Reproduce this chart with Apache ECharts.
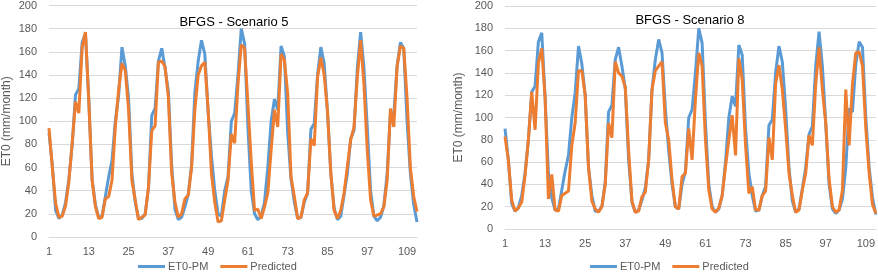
<!DOCTYPE html>
<html><head><meta charset="utf-8">
<script src="https://cdn.jsdelivr.net/npm/echarts@6/dist/echarts.min.js"></script>
<style>html,body{margin:0;padding:0;background:#fff}#c{width:878px;height:272px}</style>
</head><body><div id="c"></div>
<script>
const months = Array.from({length:112},(_,i)=>String(i+1));
const et0pm = [90,62,23,16,19,30,50,80,123,128,168,176,118,50,28,17,18,35,52,66,100,122,164,148,120,55,30,16,16,20,42,105,111,152,163,146,126,62,24,15,17,26,37,62,125,152,170,158,108,70,40,20,18,40,52,100,107,140,180,167,95,40,20,15,18,30,60,100,119,110,165,156,90,50,30,16,17,30,38,93,98,140,164,150,108,55,25,15,18,36,55,85,92,146,177,146,95,40,18,14,17,27,55,108,105,148,168,163,100,55,28,13];
const predS5 = [94,60,29,17,18,27,48,81,117,107,164,177,118,49,26,16,17,33,35,49,95,127,150,144,110,49,32,15,17,19,43,92,96,151,152,147,121,55,30,17,20,33,36,60,110,140,148,151,110,55,30,13,14,32,49,89,81,132,166,163,115,65,23,24,16,26,38,75,110,95,158,153,124,52,35,16,17,32,38,85,79,138,155,140,109,55,23,16,23,38,61,84,95,138,170,132,75,32,18,19,20,26,49,111,95,147,165,163,120,60,35,22];
const predS8 = [83,62,26,16,19,24,48,80,123,89,149,162,118,27,49,17,16,30,32,34,75,95,142,142,120,55,25,18,15,20,40,95,82,150,140,137,127,70,25,15,16,29,33,62,125,142,146,150,95,80,44,20,18,47,50,90,62,116,158,146,80,35,18,15,19,30,56,80,102,66,153,134,75,32,38,17,17,30,34,82,62,130,147,125,90,50,30,15,17,35,50,84,75,130,163,125,95,45,20,15,17,35,125,75,130,158,159,146,90,50,22,14];
const titles = ['BFGS - Scenario 5','BFGS - Scenario 8'];
const seriesNames = ['ET0-PM','Predicted'];
const yTitle = 'ET0 (mm/month)';

const txt = '#595959', font = 'Liberation Sans';
const chart = echarts.init(document.getElementById('c'));
function xa(gi){return {type:'category',gridIndex:gi,data:months,boundaryGap:false,
  axisLine:{lineStyle:{color:'#D9D9D9'}},axisTick:{show:false},
  axisLabel:{interval:11,color:txt,fontSize:11,fontFamily:font,margin:9}};}
function ya(gi,gap){return {type:'value',gridIndex:gi,min:0,max:200,interval:20,
  name:yTitle,nameLocation:'middle',nameGap:gap,nameTextStyle:{color:txt,fontSize:12,fontFamily:font},
  axisLine:{show:false},axisTick:{show:false},
  splitLine:{lineStyle:{color:'#D9D9D9',width:1}},
  axisLabel:{color:txt,fontSize:11,fontFamily:font,margin:12}};}
function ln(name,data,gi,color,z){return {name,type:'line',xAxisIndex:gi,yAxisIndex:gi,data,
  showSymbol:false,symbol:'none',z,lineStyle:{color,width:3},itemStyle:{color},animation:false};}
function lg(left){return {left,top:261,padding:0,icon:'rect',itemWidth:27,itemHeight:3,itemGap:12,data:seriesNames,selectedMode:false,
  textStyle:{color:txt,fontSize:11,fontFamily:font,padding:[0,0,0,-2]}};}
chart.setOption({
  animation:false,
  title:[
    {text:titles[0],left:229,top:11,textAlign:'center',textStyle:{color:'#000',fontSize:13,fontWeight:'normal',fontFamily:font}},
    {text:titles[1],left:685,top:9,textAlign:'center',textStyle:{color:'#000',fontSize:13,fontWeight:'normal',fontFamily:font}}
  ],
  legend:[lg(138),lg(590)],
  grid:[
    {left:49,top:5,width:368,height:232},
    {left:505,top:6,width:372,height:223}
  ],
  xAxis:[xa(0),xa(1)],
  yAxis:[ya(0,36),ya(1,40)],
  series:[
    ln(seriesNames[0],et0pm,0,'#5B9BD5',2),
    ln(seriesNames[1],predS5,0,'#ED7D31',3),
    ln(seriesNames[0],et0pm,1,'#5B9BD5',2),
    ln(seriesNames[1],predS8,1,'#ED7D31',3)
  ]
});
</script></body></html>
